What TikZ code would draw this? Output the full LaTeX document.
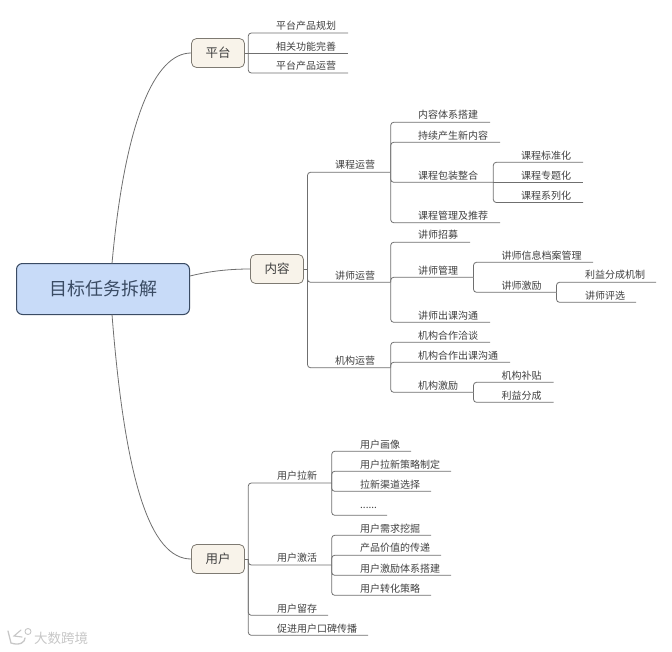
\documentclass[tikz,border=0pt]{standalone}
\usepackage{fontspec}
\setmainfont{Noto Sans CJK SC}
\definecolor{linkc}{HTML}{6F6F6F}
\definecolor{txtc}{HTML}{3F3F3F}
\definecolor{rootf}{HTML}{C8DBF8}
\definecolor{rootd}{HTML}{3A4B63}
\definecolor{subf}{HTML}{F8F3EA}
\definecolor{subd}{HTML}{7E7A72}
\tikzset{
  link/.style={draw=linkc,line width=0.8pt,rounded corners=3pt},
  curvelink/.style={draw=linkc,line width=0.8pt},
  leaf/.style={anchor=west,inner sep=0pt,yshift=-0.7pt,text=txtc,font=\fontsize{10}{10}\selectfont},
  rootbox/.style={draw=rootd,fill=rootf,line width=1pt,rounded corners=6pt,minimum width=173pt,minimum height=51pt,inner sep=0pt,text=rootd,font=\fontsize{18}{18}\selectfont},
  subbox/.style={draw=subd,fill=subf,line width=0.8pt,rounded corners=5pt,minimum width=53pt,minimum height=29pt,inner sep=0pt,text=txtc,font=\fontsize{12.5}{12.5}\selectfont},
  wmtext/.style={anchor=west,inner sep=0pt,text=black!22,font=\fontsize{13.5}{13.5}\selectfont}
}
\newcommand{\lf}[6]{%
  \node[leaf] (#1) at (#2,#3) {#6};
  \coordinate (#1-e) at (#5,#4);
}
\begin{document}
\begin{tikzpicture}[x=1pt,y=-1pt]
\useasboundingbox (0,0) rectangle (672,651);
% main boxes
\node[rootbox] (root) at (103,289) {\raisebox{-1.2pt}{目标任务拆解}};
\node[subbox] (pt) at (218,53) {\raisebox{-1pt}{平台}};
\node[subbox] (nr) at (277,269) {\raisebox{-1pt}{内容}};
\node[subbox] (yh) at (218,559) {\raisebox{-1pt}{用户}};
\coordinate (rt) at (112,263.5);
\coordinate (rb) at (112,314.5);
\draw[curvelink] (rt) .. controls (125,120) and (155,53) .. (pt.west);
\draw[curvelink] (root.east |- 0,276) .. controls (210,271) and (230,269) .. (nr.west);
\draw[curvelink] (rb) .. controls (125,480) and (150,559) .. (yh.west);
\coordinate (pt-j) at (248.3,53);
\coordinate (nr-j) at (307.5,269);
\coordinate (yh-j) at (248.3,559);
\draw[link] (pt.east) -- (pt-j);
\draw[link] (nr.east) -- (nr-j);
\draw[link] (yh.east) -- (yh-j);
% platform
\lf{p1}{276}{25}{33}{348}{平台产品规划}
\lf{p2}{276}{45.5}{53}{348}{相关功能完善}
\lf{p3}{276}{65}{73}{348}{平台产品运营}
\draw[link] (pt-j) |- (p1-e);
\draw[link] (pt-j) -- (p2-e);
\draw[link] (pt-j) |- (p3-e);
% content level 1
\lf{kc}{335}{164}{172.3}{390.7}{课程运营}
\lf{js}{335}{274.7}{282.3}{390.7}{讲师运营}
\lf{jg}{335}{359.7}{367.7}{390.7}{机构运营}
\draw[link] (nr-j) |- (kc-e);
\draw[link] (nr-j) |- (js-e);
\draw[link] (nr-j) |- (jg-e);
% course
\lf{k1}{418}{114}{122.3}{490}{内容体系搭建}
\lf{k2}{418}{134.5}{142.3}{500}{持续产生新内容}
\lf{k3}{418}{174.7}{182.3}{493.3}{课程包装整合}
\lf{k4}{418}{215}{222.7}{500}{课程管理及推荐}
\draw[link] (kc-e) |- (k1-e);
\draw[link] (kc-e) |- (k2-e);
\draw[link] (kc-e) |- (k3-e);
\draw[link] (kc-e) |- (k4-e);
\lf{k31}{521}{155}{162.3}{583}{课程标准化}
\lf{k32}{521}{175}{182.3}{583}{课程专题化}
\lf{k33}{521}{195}{202.5}{583}{课程系列化}
\draw[link] (k3-e) |- (k31-e);
\draw[link] (k3-e) -- (k32-e);
\draw[link] (k3-e) |- (k33-e);
% lecturer
\lf{j1}{418}{234.5}{242.3}{470}{讲师招募}
\lf{j2}{418}{270}{277.3}{473.5}{讲师管理}
\lf{j3}{418}{314.7}{322.3}{490}{讲师出课沟通}
\draw[link] (js-e) |- (j1-e);
\draw[link] (js-e) |- (j2-e);
\draw[link] (js-e) |- (j3-e);
\lf{j21}{501.5}{254.5}{262.3}{593}{讲师信息档案管理}
\lf{j22}{501.5}{285}{292.3}{556.5}{讲师激励}
\draw[link] (j2-e) |- (j21-e);
\draw[link] (j2-e) |- (j22-e);
\lf{j221}{585}{274.5}{282.3}{656}{利益分成机制}
\lf{j222}{585}{294.5}{302.3}{636}{讲师评选}
\draw[link] (j22-e) |- (j221-e);
\draw[link] (j22-e) |- (j222-e);
% institution
\lf{g1}{418}{334.7}{342.3}{490}{机构合作洽谈}
\lf{g2}{418}{354.7}{362.3}{510}{机构合作出课沟通}
\lf{g3}{418}{384.7}{392.3}{473.5}{机构激励}
\draw[link] (jg-e) |- (g1-e);
\draw[link] (jg-e) |- (g2-e);
\draw[link] (jg-e) |- (g3-e);
\lf{g31}{501.5}{374.7}{382.3}{553.5}{机构补贴}
\lf{g32}{501.5}{394.7}{402.3}{553.5}{利益分成}
\draw[link] (g3-e) |- (g31-e);
\draw[link] (g3-e) |- (g32-e);
% users level 1
\lf{u1}{277}{475.3}{483}{331.7}{用户拉新}
\lf{u2}{277}{557.3}{565}{331.7}{用户激活}
\lf{u3}{277}{607.7}{615.3}{328}{用户留存}
\lf{u4}{277}{627.7}{635.3}{368}{促进用户口碑传播}
\draw[link] (yh-j) |- (u1-e);
\draw[link] (yh-j) |- (u2-e);
\draw[link] (yh-j) |- (u3-e);
\draw[link] (yh-j) |- (u4-e);
\lf{a1}{360}{443.5}{451.3}{411}{用户画像}
\lf{a2}{360}{463.5}{471.3}{451}{用户拉新策略制定}
\lf{a3}{360}{483.5}{491.3}{431}{拉新渠道选择}
\lf{a4}{360}{507}{515.3}{387}{......}
\draw[link] (u1-e) |- (a1-e);
\draw[link] (u1-e) |- (a2-e);
\draw[link] (u1-e) |- (a3-e);
\draw[link] (u1-e) |- (a4-e);
\lf{b1}{360}{527.5}{535.3}{431}{用户需求挖掘}
\lf{b2}{360}{547.5}{555.3}{441}{产品价值的传递}
\lf{b3}{360}{567.5}{575.3}{451}{用户激励体系搭建}
\lf{b4}{360}{587.5}{595.3}{431}{用户转化策略}
\draw[link] (u2-e) |- (b1-e);
\draw[link] (u2-e) |- (b2-e);
\draw[link] (u2-e) |- (b3-e);
\draw[link] (u2-e) |- (b4-e);
% watermark
\node[wmtext] (wm) at (34,638) {大数跨境};
\draw[black!22,line width=1.3pt,line cap=round] (8,631) -- (11,643) .. controls (20,646) and (25,642) .. (25,638);
\draw[black!22,line width=1.1pt,line cap=round] (21,630) -- (14,636) -- (22,637);
\draw[black!22,line width=0.9pt] (28,631.5) circle (3pt);
\end{tikzpicture}
\end{document}
